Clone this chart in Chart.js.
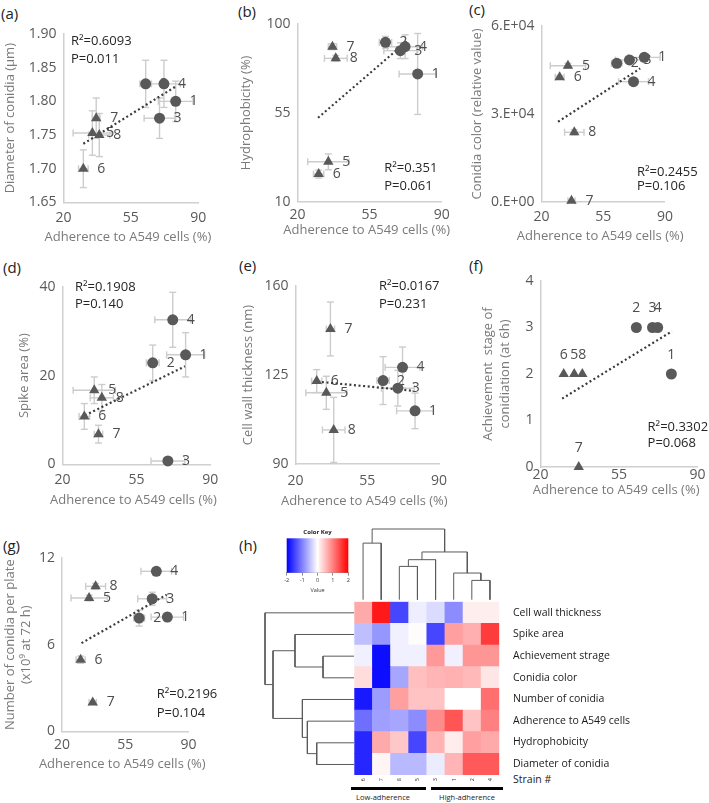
<!DOCTYPE html>
<html>
<head>
<meta charset="utf-8">
<script src="https://cdn.jsdelivr.net/npm/chart.js@4.4.0/dist/chart.umd.min.js"></script>
<style>
  body { margin: 0; width: 709px; height: 803px; position: relative; overflow: hidden; background: #fff; font-family: 'Open Sans', sans-serif; }
  canvas { position: absolute; }
  .lt { position: absolute; font-size: 15px; line-height: 15px; color: #222; }
  .sm { position: absolute; color: #222; white-space: nowrap; }
  .bar { position: absolute; height: 2.5px; background: #000; }
</style>
</head>
<body>
<div class="lt" style="left:1px;top:6px">(a)</div>
<div class="lt" style="left:238px;top:4px">(b)</div>
<div class="lt" style="left:469px;top:2px">(c)</div>
<div class="lt" style="left:3px;top:260px">(d)</div>
<div class="lt" style="left:239px;top:258px">(e)</div>
<div class="lt" style="left:469px;top:258px">(f)</div>
<div class="lt" style="left:3px;top:538px">(g)</div>
<div class="lt" style="left:239px;top:538px">(h)</div>

<div class="sm" style="left:513px;top:772px;font-size:10.5px">Strain #</div>
<div class="bar" style="left:351px;top:787px;width:75px"></div>
<div class="bar" style="left:431px;top:787px;width:72px"></div>
<div class="sm" style="left:352px;top:792px;width:62px;text-align:center;font-size:7.5px">Low-adherence</div>
<div class="sm" style="left:433px;top:792px;width:68px;text-align:center;font-size:7.5px">High-adherence</div>

<script>
Chart.defaults.font.family = "'Open Sans', sans-serif";

// ---- scatter data, strains 1..8 ----
const strains = ['1', '2', '3', '4', '5', '6', '7', '8'];
const adherence = [78.3, 62.7, 69.9, 72.2, 35.0, 30.3, 37.0, 38.6];
const adherenceSd = [9, 3, 8, 8.5, 10, 2.5, 2, 5.5];

const diameter = [1.800, 1.826, 1.775, 1.826, 1.753, 1.700, 1.775, 1.750];
const diameterSd = [0.03, 0.035, 0.03, 0.035, 0.033, 0.028, 0.03, 0.032];
const hydro = [74.7, 90.7, 86.5, 88.5, 30.2, 24.0, 88.5, 82.6];
const hydroSd = [20.5, 3, 4, 6, 4, 2, 1.5, 1.5];
const colour = [49300, 47250, 48400, 41000, 46450, 42470, 300, 23700];
const colourSd = [700, 600, 600, 800, 800, 600, 300, 900];
const spike = [24.7, 22.9, 0.75, 32.6, 16.7, 10.8, 6.8, 15.0];
const spikeSd = [5, 4, 0.4, 6.2, 3, 2.9, 2, 3];
const wall = [110.9, 122.8, 119.8, 128.0, 118.0, 122.6, 143.1, 103.4];
const wallSd = [7, 9.4, 7, 8, 6.5, 4.5, 10.6, 12.8];
const stage = [2, 3, 3, 3, 2, 2, 0, 2];
const conidia = [7.91, 7.84, 9.18, 11.08, 9.23, 4.96, 2.0, 10.04];
const conidiaSd = [0.3, 0.55, 0.45, 0.2, 0.2, 0.25, 0.1, 0.2];

// trend line end points
const trendA = [[30.3, 1.737], [78.3, 1.822]];
const trendB = [[30.0, 52.5], [73.5, 91.6]];
const trendC = [[29.4, 27300], [76.0, 45500]];
const trendD = [[30.6, 11.05], [78.0, 22.1]];
const trendE = [[30.6, 122.4], [77.0, 118.8]];
const trendF = [[29.6, 1.47], [78.6, 2.92]];
const trendG = [[30.8, 6.11], [77.9, 9.46]];

const xTicks = [20, 55, 90];
const yTicksA = [1.65, 1.70, 1.75, 1.80, 1.85, 1.90];
const yLabelsA = ['1.65', '1.70', '1.75', '1.80', '1.85', '1.90'];
const yTicksB = [10, 55, 100];
const yTicksC = [0, 30000, 60000];
const yLabelsC = ['0.E+00', '3.E+04', '6.E+04'];
const yTicksD = [0, 20, 40];
const yTicksE = [90, 125, 160];
const yTicksF = [0, 1, 2, 3, 4];
const yTicksG = [0, 6, 12];

// ---- heatmap data (columns = strains, rows = traits) ----
const colLabels = ['6', '7', '8', '5', '3', '1', '2', '4'];
const rowNames = ['Cell wall thickness', 'Spike area', 'Achievement strage', 'Conidia color',
  'Number of conidia', 'Adherence to A549 cells', 'Hydrophobicity', 'Diameter of conidia'];
const zWall = [0.67, 1.8, -1.45, -0.13, -0.28, -0.9, 0.13, 0.13];
const zSpike = [-0.5, -0.82, -0.12, 0.02, -1.45, 0.75, 0.63, 1.53];
const zStage = [-0.12, -1.9, -0.12, -0.12, 0.8, -0.12, 0.82, 0.82];
const zColour = [0.27, -1.9, -0.7, 0.5, 0.58, 0.62, 0.55, 0.2];
const zNumber = [-1.8, -0.78, 0.75, 0.47, 0.47, 0, 0, 1.13];
const zAdh = [-1.13, -0.75, -0.7, -0.9, 0.9, 1.33, 0.47, 1.0];
const zHydro = [-1.7, 0.67, 0.43, -1.45, 0.6, 0.15, 0.75, 0.67];
const zDiam = [-1.7, 0.08, -0.55, -0.55, -0.15, 0.58, 1.3, 1.3];
const heatRows = [zWall, zSpike, zStage, zColour, zNumber, zAdh, zHydro, zDiam];

// dendrograms (hclust style merges: negative = leaf position, positive = earlier merge)
const colMerge = [[-3, -4], [-7, -8], [-6, 2], [1, -5], [4, 3], [-1, -2], [6, 5]];
const colHeight = [0.471, 0.273, 0.377, 0.566, 0.675, 0.80, 1.0];
const rowMerge = [[-3, -4], [-2, 1], [-7, -8], [-6, 3], [-5, 4], [2, 5], [-1, 6]];
const rowHeight = [0.348, 0.663, 0.419, 0.524, 0.58, 0.91, 1.0];
const keyTicks = [-2, -1, 0, 1, 2];

// ---- plugins ----
const errorBars = {
  id: 'errorBars',
  beforeDatasetsDraw(chart, args, o) {
    const { ctx, scales: { x, y } } = chart;
    ctx.save();
    ctx.strokeStyle = '#cccccc';
    ctx.lineWidth = 1.4;
    const seg = (x1, y1, x2, y2) => { ctx.beginPath(); ctx.moveTo(x1, y1); ctx.lineTo(x2, y2); ctx.stroke(); };
    adherence.forEach((ax, i) => {
      const px = x.getPixelForValue(ax), py = y.getPixelForValue(o.y[i]);
      if (o.yErr) {
        const t = y.getPixelForValue(o.y[i] + o.yErr[i]), b = y.getPixelForValue(o.y[i] - o.yErr[i]);
        seg(px, t, px, b); seg(px - 3.5, t, px + 3.5, t); seg(px - 3.5, b, px + 3.5, b);
      }
      if (o.xErr) {
        const l = x.getPixelForValue(ax - o.xErr[i]), r = x.getPixelForValue(ax + o.xErr[i]);
        seg(l, py, r, py); seg(l, py - 3.5, l, py + 3.5); seg(r, py - 3.5, r, py + 3.5);
      }
    });
    ctx.restore();
  }
};

const ptLabels = {
  id: 'ptLabels',
  beforeDatasetsDraw(chart, args, o) {
    const { ctx, scales: { x, y } } = chart;
    ctx.save();
    ctx.font = "14px 'Open Sans'";
    ctx.fillStyle = '#4d4d4d';
    ctx.textAlign = 'center';
    ctx.textBaseline = 'middle';
    strains.forEach((s, i) => {
      ctx.fillText(s, x.getPixelForValue(adherence[i]) + o.dx, y.getPixelForValue(o.y[i]) + o.dy);
    });
    ctx.restore();
  }
};

const stats = {
  id: 'stats',
  afterDatasetsDraw(chart, args, o) {
    const { ctx, scales: { x, y } } = chart;
    ctx.save();
    ctx.font = "13px 'Open Sans'";
    ctx.fillStyle = '#262626';
    ctx.textAlign = 'left';
    ctx.textBaseline = 'middle';
    const px = x.getPixelForValue(o.pos[0]);
    ctx.fillText(o.text[0], px, y.getPixelForValue(o.pos[1]));
    ctx.fillText(o.text[1], px, y.getPixelForValue(o.pos[2]));
    ctx.restore();
  }
};

// x axis title drawn without the axis-width squeeze
const xTitle = {
  id: 'xTitle',
  afterDraw(chart, args, o) {
    const { ctx, chartArea: a } = chart;
    ctx.save();
    ctx.font = "13px 'Open Sans'";
    ctx.fillStyle = '#7a7a7a';
    ctx.textAlign = 'center';
    ctx.textBaseline = 'middle';
    ctx.fillText('Adherence to A549 cells (%)', (a.left + a.right) / 2 - 3, o.y);
    ctx.restore();
  }
};

function addCanvas(left, top, w, h) {
  const cv = document.createElement('canvas');
  cv.width = w; cv.height = h;
  cv.style.left = left + 'px';
  cv.style.top = top + 'px';
  document.body.appendChild(cv);
  return cv;
}

function makePanel(p) {
  const [L, T, R, B] = p.area;
  const x0 = p.yTitleX - 12, y0 = T - 26;
  const w = Math.round(R + 32 - x0), h = Math.round(p.xTitleY + 11.8 - y0);
  const cv = addCanvas(x0, y0, w, h);
  const lh = p.titleLH || 1.2;
  const hi = [0, 1, 2, 3], lo = [4, 5, 6, 7];
  new Chart(cv, {
    type: 'scatter',
    data: {
      datasets: [
        { data: hi.map(i => ({ x: adherence[i], y: p.y[i] })), pointStyle: 'circle', pointRadius: 5.5,
          backgroundColor: '#595959', borderWidth: 0, clip: false },
        { data: lo.map(i => ({ x: adherence[i], y: p.y[i] })), pointStyle: 'triangle', pointRadius: 6,
          backgroundColor: '#595959', borderWidth: 0, clip: false },
        { data: p.trend.map(([x, y]) => ({ x, y })), showLine: true, pointRadius: 0,
          borderColor: '#3a3a3a', borderWidth: 2.2, borderDash: [2, 2.6], clip: false }
      ]
    },
    options: {
      responsive: false,
      animation: false,
      layout: { padding: { left: 0, top: T - y0, right: w - (R - x0), bottom: 0 } },
      plugins: {
        legend: { display: false },
        tooltip: { enabled: false },
        errorBars: { y: p.y, yErr: p.yErr, xErr: p.xErr },
        ptLabels: { y: p.y, dx: p.dx ?? 18, dy: p.dy ?? 0 },
        stats: { text: p.stats, pos: p.statPos },
        xTitle: { y: p.xTitleY - y0 }
      },
      scales: {
        x: {
          type: 'linear', min: 20, max: 90,
          grid: { display: false, drawTicks: false },
          border: { display: true, color: '#d0d0d0', width: 1.5 },
          afterBuildTicks: s => { s.ticks = xTicks.map(v => ({ value: v })); },
          ticks: { font: { size: 14 }, color: '#595959', padding: p.xTickPad, maxRotation: 0, autoSkip: false },
          afterFit: s => { s.height = y0 + h - B; }
        },
        y: {
          type: 'linear', min: p.yMin, max: p.yMax,
          grid: { display: false, drawTicks: false },
          border: { display: true, color: '#d0d0d0', width: 1.5 },
          afterBuildTicks: s => { s.ticks = p.yTicks.map(v => ({ value: v })); },
          ticks: { font: { size: 14 }, color: '#595959', padding: 7, autoSkip: false,
                   callback: (v, i) => p.yLabels ? p.yLabels[i] : String(v) },
          title: { display: true, text: p.title, font: { size: 13, lineHeight: lh }, color: '#7a7a7a',
                   padding: { top: 12 - 13 * lh / 2, bottom: 0 } },
          afterFit: s => { s.width = L - x0; }
        }
      }
    },
    plugins: [errorBars, ptLabels, stats, xTitle]
  });
}

makePanel({ area: [63.5, 34.3, 198.2, 202.7], yTitleX: 10, xTitleY: 237.3, xTickPad: 7, title: 'Diameter of conidia (µm)',
  y: diameter, yErr: diameterSd, xErr: adherenceSd, yMin: 1.65, yMax: 1.90, yTicks: yTicksA, yLabels: yLabelsA,
  trend: trendA, stats: ['R²=0.6093', 'P=0.011'], statPos: [23.9, 1.889, 1.862] });

makePanel({ area: [297.4, 24, 441.8, 201.7], yTitleX: 246, xTitleY: 230, xTickPad: 5, title: 'Hydrophobicity (%)',
  y: hydro, yErr: hydroSd, xErr: adherenceSd, yMin: 10, yMax: 100, yTicks: yTicksB,
  trend: trendB, stats: ['R²=0.351', 'P=0.061'], statPos: [62.1, 26.9, 17.9] });

makePanel({ area: [541.5, 26, 664.9, 201.7], yTitleX: 477, xTitleY: 236.7, xTickPad: 6.5, title: 'Conidia color (relative value)',
  y: colour, yErr: colourSd, xErr: adherenceSd, yMin: 0, yMax: 60000, yTicks: yTicksC, yLabels: yLabelsC,
  trend: trendC, stats: ['R²=0.2455', 'P=0.106'], statPos: [74.2, 10040, 5120] });

makePanel({ area: [62.6, 286.7, 210.3, 464], yTitleX: 24, xTitleY: 500, xTickPad: 7.5, title: 'Spike area (%)',
  y: spike, yErr: spikeSd, xErr: adherenceSd, yMin: 0, yMax: 40, yTicks: yTicksD,
  trend: trendD, stats: ['R²=0.1908', 'P=0.140'], statPos: [25.9, 40, 36.1] });

makePanel({ area: [295.9, 286, 439.3, 464], yTitleX: 248.3, xTitleY: 501, xTickPad: 8.5, title: 'Cell wall thickness (nm)',
  y: wall, yErr: wallSd, xErr: adherenceSd, yMin: 90, yMax: 160, yTicks: yTicksE,
  trend: trendE, stats: ['R²=0.0167', 'P=0.231'], statPos: [60.7, 160, 152.9] });

makePanel({ area: [540.6, 280.7, 697.6, 466.7], yTitleX: 488, xTitleY: 490, xTickPad: 0, titleLH: 1.33,
  title: ['Achievement  stage of', 'conidiation (at 6h)'],
  y: stage, yErr: null, xErr: null, yMin: 0, yMax: 4, yTicks: yTicksF, dx: 0, dy: -19,
  trend: trendF, stats: ['R²=0.3302', 'P=0.068'], statPos: [67.7, 0.86, 0.50] });

makePanel({ area: [62, 558.3, 188.5, 731.7], yTitleX: 10, xTitleY: 765, xTickPad: 5.5, titleLH: 1.28,
  title: ['Number of conidia per plate', '(x10⁹ at 72 h)'],
  y: conidia, yErr: conidiaSd, xErr: adherenceSd, yMin: 0, yMax: 12, yTicks: yTicksG,
  trend: trendG, stats: ['R²=0.2196', 'P=0.104'], statPos: [72.4, 2.54, 1.27] });

// ---- heatmap ----
function zToColor(z) {
  const t = Math.max(-1, Math.min(1, z / 2));
  if (t < 0) {
    const k = Math.round(255 * (1 + t));
    return `rgb(${k},${k},255)`;
  }
  const k = Math.round(255 * (1 - t));
  return `rgb(255,${k},${k})`;
}

const hm = { L: 354.3, T: 601.7, R: 499.3, B: 775 };
const hmCv = addCanvas(350, 576, 359, 227);
new Chart(hmCv, {
  type: 'bar',
  data: {
    labels: colLabels,
    datasets: heatRows.map(z => ({
      data: colLabels.map(() => 1),
      backgroundColor: z.map(zToColor),
      borderWidth: 0, barPercentage: 1, categoryPercentage: 1
    })).reverse()
  },
  options: {
    responsive: false,
    animation: false,
    layout: { padding: { left: hm.L - 350, top: hm.T - 576, right: 0, bottom: 0 } },
    plugins: { legend: { display: false }, tooltip: { enabled: false } },
    scales: {
      x: {
        stacked: true,
        grid: { display: false, drawTicks: false },
        border: { display: false },
        ticks: { font: { size: 5.5 }, color: '#333', minRotation: 90, maxRotation: 90, padding: 3 },
        afterFit: s => { s.height = 803 - hm.B; }
      },
      y: { stacked: true, display: false, min: 0, max: 8 },
      yr: {
        type: 'category', labels: rowNames, position: 'right', offset: true,
        grid: { display: false, drawTicks: false },
        border: { display: false },
        ticks: { font: { size: 10.5 }, color: '#1a1a1a', padding: 13.7, autoSkip: false },
        afterFit: s => { s.width = 709 - hm.R; }
      }
    }
  }
});

// ---- dendrograms ----
function dendroSegs(merge, heights) {
  const pos = [], hgt = [];
  return merge.map(([a, b], i) => {
    const pa = a < 0 ? -a - 1 : pos[a - 1], ha = a < 0 ? 0 : hgt[a - 1];
    const pb = b < 0 ? -b - 1 : pos[b - 1], hb = b < 0 ? 0 : hgt[b - 1];
    pos[i] = (pa + pb) / 2;
    hgt[i] = heights[i];
    return [[pa, ha], [pa, heights[i]], [pb, heights[i]], [pb, hb]];
  });
}

function makeDendro(area, segs, sideways) {
  const [L, T, R, B] = area;
  const w = Math.round(R - L + 4), h = Math.round(B - T + 4);
  const cv = addCanvas(L - 2, T - 2, w, h);
  new Chart(cv, {
    type: 'scatter',
    data: {
      datasets: segs.map(s => ({
        data: s.map(([p, v]) => sideways ? { x: v, y: p } : { x: p, y: v }),
        showLine: true, pointRadius: 0, borderColor: '#5a5a5a', borderWidth: 1, clip: false
      }))
    },
    options: {
      responsive: false,
      animation: false,
      layout: { padding: { left: 2, top: 2, right: w - 2 - (R - L), bottom: h - 2 - (B - T) } },
      plugins: { legend: { display: false }, tooltip: { enabled: false } },
      scales: sideways ? {
        x: { type: 'linear', min: 0, max: 1, reverse: true, display: false },
        y: { type: 'linear', min: -0.5, max: 7.5, reverse: true, display: false }
      } : {
        x: { type: 'linear', min: -0.5, max: 7.5, display: false },
        y: { type: 'linear', min: 0, max: 1, display: false }
      }
    }
  });
}

makeDendro([hm.L, 529.3, hm.R, 600], dendroSegs(colMerge, colHeight), false);
makeDendro([265.3, hm.T, hm.L, hm.B], dendroSegs(rowMerge, rowHeight), true);

// ---- colour key ----
const keyFill = {
  id: 'keyFill',
  beforeDatasetsDraw(chart) {
    const { ctx, chartArea: a } = chart;
    const g = ctx.createLinearGradient(a.left, 0, a.right, 0);
    keyTicks.forEach(v => g.addColorStop((v + 2) / 4, zToColor(v)));
    ctx.save();
    ctx.fillStyle = g;
    ctx.fillRect(a.left, a.top, a.right - a.left, a.bottom - a.top);
    ctx.restore();
  }
};

const keyCv = addCanvas(276, 526, 86, 72);
new Chart(keyCv, {
  type: 'scatter',
  data: { datasets: [] },
  options: {
    responsive: false,
    animation: false,
    layout: { padding: { left: 10.7, top: 3.1, right: 86 - (348.3 - 276), bottom: 0 } },
    plugins: {
      legend: { display: false },
      tooltip: { enabled: false },
      title: { display: true, text: 'Color Key', font: { size: 6, weight: 'bold' }, color: '#222',
               padding: { top: 0, bottom: 2 } }
    },
    scales: {
      x: {
        type: 'linear', min: -2, max: 2,
        grid: { display: true, drawOnChartArea: false, drawTicks: true, tickLength: 3, color: '#444', lineWidth: 0.6 },
        border: { display: true, color: '#444', width: 0.6 },
        afterBuildTicks: s => { s.ticks = keyTicks.map(v => ({ value: v })); },
        ticks: { font: { size: 5.5 }, color: '#333', padding: 1, maxRotation: 0, autoSkip: false },
        title: { display: true, text: 'Value', font: { size: 5.5 }, color: '#333', padding: { top: 0, bottom: 4.7 } },
        afterFit: s => { s.height = 598 - 572.7; }
      },
      y: { type: 'linear', min: 0, max: 1, display: false }
    }
  },
  plugins: [keyFill]
});
</script>
</body>
</html>
